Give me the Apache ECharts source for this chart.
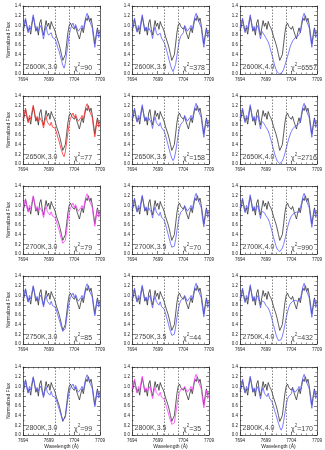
<!DOCTYPE html>
<html>
<head>
<meta charset="utf-8">
<script src="https://cdn.jsdelivr.net/npm/echarts@6/dist/echarts.min.js"></script>
<style>
  html, body { margin: 0; padding: 0; background: #fff; }
  #main { width: 325px; height: 450px; }
</style>
</head>
<body>
<div id="main"></div>
<script>
// wavelength grid (A), 0.25 A steps
var wave = [7694.00,7694.25,7694.50,7694.75,7695.00,7695.25,7695.50,7695.75,7696.00,7696.25,
            7696.50,7696.75,7697.00,7697.25,7697.50,7697.75,7698.00,7698.25,7698.50,7698.75,
            7699.00,7699.25,7699.50,7699.75,7700.00,7700.25,7700.50,7700.75,7701.00,7701.25,
            7701.50,7701.75,7702.00,7702.25,7702.50,7702.75,7703.00,7703.25,7703.50,7703.75,
            7704.00,7704.25,7704.50,7704.75,7705.00,7705.25,7705.50,7705.75,7706.00,7706.25,
            7706.50,7706.75,7707.00,7707.25,7707.50,7707.75,7708.00,7708.25,7708.50,7708.75,7709.00];

// observed spectrum (same in every panel)
var observed = [0.90,0.97,1.12,1.00,0.88,0.95,0.82,1.02,1.18,1.05,
                0.88,0.95,0.80,1.05,1.12,0.92,0.80,0.95,1.10,0.98,
                1.05,0.92,1.08,1.00,0.95,0.88,0.78,0.70,0.62,0.52,
                0.40,0.28,0.25,0.40,0.62,0.85,1.00,1.05,0.98,1.02,
                0.92,0.98,0.88,0.80,0.72,0.85,0.95,0.85,1.00,1.15,
                1.10,1.20,1.08,1.15,1.00,0.80,0.62,0.80,0.95,0.82,0.88];

// model spectra, one per panel
var m2600_30 = [0.95,1.05,1.15,0.95,0.85,1.00,0.92,1.08,1.22,1.05,0.90,0.98,0.88,0.95,1.00,0.85,0.72,0.88,0.98,0.85,
                0.80,0.78,0.85,0.75,0.78,0.72,0.65,0.55,0.48,0.38,0.28,0.18,0.12,0.22,0.42,0.62,0.80,0.92,1.00,1.05,
                0.95,1.02,0.95,0.88,0.85,0.95,1.00,0.92,1.05,1.18,1.25,1.15,1.08,1.10,0.95,0.72,0.55,0.75,0.92,0.75,0.82];
var m2600_35 = [0.95,1.05,1.15,0.95,0.86,1.00,0.92,1.08,1.22,1.04,0.90,0.97,0.88,0.95,0.98,0.85,0.73,0.88,0.97,0.85,
                0.80,0.77,0.84,0.74,0.72,0.65,0.58,0.48,0.38,0.28,0.18,0.10,0.05,0.08,0.20,0.38,0.55,0.70,0.78,0.82,
                0.85,1.00,0.95,0.88,0.85,0.95,1.00,0.92,1.05,1.18,1.25,1.15,1.08,1.10,0.95,0.72,0.55,0.75,0.92,0.75,0.82];
var m2600_40 = [0.95,1.05,1.15,0.95,0.85,1.00,0.92,1.08,1.22,1.05,0.90,0.98,0.88,0.95,1.00,0.85,0.72,0.88,
                0.85,0.80,0.75,0.72,0.66,0.58,0.48,0.38,0.28,0.18,0.10,0.04,0.01,0.00,0.01,0.04,0.10,0.18,0.27,0.36,
                0.45,0.55,0.62,0.68,0.72,0.75,0.76,0.78,0.80,0.85,
                1.05,1.18,1.25,1.15,1.08,1.10,0.95,0.72,0.55,0.75,0.92,0.75,0.82];
var m2650_30 = [0.95,1.04,1.15,0.96,0.85,1.00,0.92,1.08,1.21,1.05,0.90,0.98,0.88,0.96,1.00,0.86,0.74,0.88,0.98,0.86,
                0.82,0.79,0.86,0.76,0.80,0.74,0.66,0.56,0.48,0.38,0.28,0.20,0.15,0.25,0.45,0.65,0.82,0.94,1.00,1.05,
                0.96,1.02,0.95,0.88,0.85,0.95,1.00,0.92,1.05,1.18,1.24,1.15,1.08,1.10,0.96,0.73,0.56,0.76,0.92,0.76,0.82];
var m2650_35 = [0.95,1.05,1.15,0.95,0.86,1.00,0.92,1.08,1.22,1.04,0.90,0.97,0.88,0.95,0.99,0.85,0.73,0.88,0.97,0.85,
                0.81,0.78,0.85,0.75,0.74,0.68,0.60,0.50,0.40,0.30,0.20,0.12,0.07,0.12,0.25,0.42,0.60,0.74,0.82,0.86,
                0.88,1.00,0.95,0.88,0.85,0.95,1.00,0.92,1.05,1.18,1.25,1.15,1.08,1.10,0.95,0.72,0.55,0.75,0.92,0.75,0.82];
var m2650_40 = [0.95,1.05,1.15,0.95,0.85,1.00,0.92,1.08,1.22,1.05,0.90,0.98,0.88,0.95,1.00,0.85,0.72,0.88,
                0.88,0.82,0.77,0.74,0.68,0.60,0.51,0.41,0.31,0.21,0.13,0.06,0.02,0.01,0.02,0.06,0.13,0.22,0.32,0.42,
                0.52,0.60,0.67,0.72,0.76,0.78,0.80,0.81,0.82,0.86,
                1.05,1.18,1.25,1.15,1.08,1.10,0.95,0.72,0.55,0.75,0.92,0.75,0.82];
var m2700_30 = [0.95,1.04,1.14,0.96,0.86,1.00,0.93,1.08,1.20,1.05,0.91,0.98,0.89,0.96,1.00,0.87,0.75,0.89,0.98,0.87,
                0.83,0.80,0.87,0.78,0.80,0.75,0.68,0.58,0.50,0.40,0.30,0.22,0.18,0.28,0.48,0.68,0.84,0.95,1.00,1.05,
                0.96,1.02,0.95,0.88,0.86,0.95,1.00,0.92,1.05,1.18,1.24,1.15,1.08,1.10,0.96,0.74,0.57,0.76,0.92,0.76,0.83];
var m2700_35 = [0.95,1.05,1.15,0.95,0.86,1.00,0.92,1.08,1.21,1.04,0.90,0.97,0.88,0.95,0.99,0.86,0.74,0.88,0.97,0.86,
                0.82,0.79,0.86,0.76,0.76,0.70,0.62,0.52,0.42,0.32,0.22,0.14,0.10,0.16,0.30,0.48,0.65,0.78,0.86,0.90,
                0.92,1.00,0.95,0.88,0.85,0.95,1.00,0.92,1.05,1.18,1.25,1.15,1.08,1.10,0.95,0.72,0.56,0.75,0.92,0.75,0.82];
var m2700_40 = [0.95,1.05,1.15,0.95,0.85,1.00,0.92,1.08,1.22,1.05,0.90,0.98,0.88,0.95,1.00,0.85,0.73,0.88,
                0.90,0.85,0.80,0.77,0.72,0.65,0.56,0.46,0.36,0.26,0.17,0.10,0.06,0.05,0.07,0.12,0.20,0.30,0.42,0.54,
                0.64,0.72,0.78,0.82,0.84,0.85,0.86,0.86,0.86,0.90,
                1.05,1.18,1.25,1.15,1.08,1.10,0.95,0.72,0.55,0.75,0.92,0.75,0.82];
var m2750_30 = [0.95,1.04,1.14,0.96,0.86,1.00,0.93,1.08,1.20,1.05,0.91,0.98,0.89,0.96,1.01,0.88,0.76,0.90,0.99,0.88,
                0.84,0.81,0.88,0.79,0.80,0.76,0.70,0.60,0.52,0.43,0.34,0.26,0.22,0.32,0.52,0.70,0.86,0.96,1.00,1.05,
                0.96,1.02,0.95,0.88,0.86,0.95,1.00,0.92,1.05,1.18,1.24,1.15,1.08,1.10,0.96,0.74,0.58,0.76,0.92,0.76,0.83];
var m2750_35 = [0.95,1.05,1.15,0.95,0.86,1.00,0.92,1.08,1.21,1.04,0.90,0.97,0.88,0.95,1.00,0.86,0.74,0.89,0.98,0.87,
                0.83,0.80,0.87,0.77,0.78,0.72,0.64,0.54,0.45,0.35,0.26,0.18,0.14,0.20,0.35,0.54,0.70,0.82,0.90,0.94,
                0.94,1.00,0.95,0.88,0.85,0.95,1.00,0.92,1.05,1.18,1.25,1.15,1.08,1.10,0.95,0.73,0.56,0.75,0.92,0.75,0.82];
var m2750_40 = [0.95,1.05,1.15,0.95,0.85,1.00,0.92,1.08,1.22,1.05,0.90,0.98,0.88,0.95,1.00,0.86,0.74,0.89,
                0.92,0.86,0.80,0.78,0.74,0.68,0.60,0.50,0.40,0.30,0.20,0.12,0.07,0.06,0.09,0.16,0.27,0.40,0.54,0.66,
                0.75,0.82,0.86,0.88,0.88,0.90,0.90,0.88,0.88,0.92,
                1.05,1.18,1.25,1.15,1.08,1.10,0.95,0.72,0.55,0.75,0.92,0.75,0.82];
var m2800_30 = [0.95,1.04,1.14,0.96,0.86,1.00,0.93,1.08,1.20,1.05,0.92,0.98,0.90,0.96,1.01,0.88,0.77,0.90,0.99,0.88,
                0.85,0.82,0.90,0.80,0.82,0.78,0.72,0.63,0.55,0.46,0.38,0.30,0.28,0.36,0.56,0.74,0.88,0.97,1.00,1.05,
                0.96,1.02,0.95,0.88,0.86,0.95,1.00,0.92,1.05,1.18,1.24,1.15,1.08,1.10,0.96,0.74,0.58,0.76,0.92,0.76,0.83];
var m2800_35 = [0.95,1.05,1.15,0.95,0.86,1.00,0.92,1.08,1.21,1.04,0.91,0.97,0.89,0.95,1.00,0.86,0.75,0.89,0.98,0.87,
                0.84,0.81,0.88,0.78,0.80,0.74,0.66,0.56,0.48,0.38,0.30,0.22,0.18,0.25,0.42,0.60,0.76,0.88,0.94,0.98,
                0.95,1.00,0.95,0.88,0.85,0.95,1.00,0.92,1.05,1.18,1.25,1.15,1.08,1.10,0.95,0.73,0.56,0.75,0.92,0.75,0.82];
var m2800_40 = [0.95,1.05,1.15,0.95,0.86,1.00,0.92,1.08,1.21,1.05,0.90,0.97,0.88,0.95,1.00,0.86,0.74,0.89,0.98,0.86,
                0.82,0.79,0.86,0.76,0.74,0.68,0.60,0.50,0.42,0.33,0.24,0.16,0.10,0.15,0.28,0.45,0.62,0.74,0.80,0.84,
                0.85,0.95,0.95,0.88,0.85,0.95,1.00,0.92,1.05,1.18,1.25,1.15,1.08,1.10,0.95,0.72,0.55,0.75,0.92,0.75,0.82];

var temps = ['2600K', '2650K', '2700K', '2750K', '2800K'];
var loggs = ['3.0', '3.5', '4.0'];
var models = [
  [m2600_30, m2600_35, m2600_40],
  [m2650_30, m2650_35, m2650_40],
  [m2700_30, m2700_35, m2700_40],
  [m2750_30, m2750_35, m2750_40],
  [m2800_30, m2800_35, m2800_40]
];
var chi2 = [
  [90, 378, 6557],
  [77, 158, 2716],
  [79, 70, 990],
  [85, 44, 432],
  [99, 35, 170]
];
// colour of each panel's model line
var modelColor = [
  ['blue', 'blue', 'blue'],
  ['red', 'blue', 'blue'],
  ['magenta', 'blue', 'blue'],
  ['blue', 'blue', 'blue'],
  ['blue', 'magenta', 'blue']
];
var lineMarks = [7700.35, 7703.1];   // dotted vertical lines
var xTicks = [7694, 7709, 5];        // min, max, step
var yTicks = [0.0, 1.4, 0.2];

var colors = { blue: '#5a5aff', red: '#ff2a2a', magenta: '#ff3cff' };
var colLeft = [23, 132, 240];
var rowTop = [6, 96, 186, 276, 367];
var pw = 77, ph = 68;
var fnt = 'Liberation Sans';
var axCol = '#222';

function frameAxis(extra) {
  var a = {
    axisLine: { show: true, onZero: false, lineStyle: { color: axCol, width: 0.7 } },
    axisTick: { show: true, inside: true, length: 3, lineStyle: { color: axCol, width: 0.6 } },
    splitLine: { show: false }
  };
  for (var k in extra) a[k] = extra[k];
  return a;
}

var grids = [], xAxes = [], yAxes = [], series = [], texts = [];
var g = 0;
for (var r = 0; r < 5; r++) {
  for (var c = 0; c < 3; c++) {
    grids.push({ left: colLeft[c], top: rowTop[r], width: pw, height: ph });
    var xMinor = { show: true, splitNumber: 5, length: 1.5, lineStyle: { color: axCol, width: 0.5 } };
    var yMinor = { show: true, splitNumber: 2, length: 1.5, lineStyle: { color: axCol, width: 0.5 } };
    xAxes.push(frameAxis({
      gridIndex: g, type: 'value', min: xTicks[0], max: xTicks[1], interval: xTicks[2],
      position: 'bottom', minorTick: xMinor,
      name: r == 4 ? 'Wavelength (Å)' : '', nameLocation: 'middle', nameGap: 9,
      nameTextStyle: { fontSize: 5, fontFamily: fnt, color: axCol },
      axisLabel: { fontSize: 4.5, fontFamily: fnt, color: axCol, margin: 3,
        formatter: function (v) { return v.toFixed(0); } }
    }));
    xAxes.push(frameAxis({
      gridIndex: g, type: 'value', min: xTicks[0], max: xTicks[1], interval: xTicks[2],
      position: 'top', minorTick: xMinor, axisLabel: { show: false }
    }));
    yAxes.push(frameAxis({
      gridIndex: g, type: 'value', min: yTicks[0], max: yTicks[1], interval: yTicks[2],
      position: 'left', minorTick: yMinor,
      name: c == 0 ? 'Normalized Flux' : '', nameLocation: 'middle', nameGap: 11, nameRotate: 90,
      nameTextStyle: { fontSize: 5, fontFamily: fnt, color: axCol },
      axisLabel: { fontSize: 4.5, fontFamily: fnt, color: axCol, margin: 2,
        formatter: function (v) { return v.toFixed(1); } }
    }));
    yAxes.push(frameAxis({
      gridIndex: g, type: 'value', min: yTicks[0], max: yTicks[1], interval: yTicks[2],
      position: 'right', minorTick: yMinor, axisLabel: { show: false }
    }));

    var obsData = [], modData = [];
    for (var i = 0; i < wave.length; i++) {
      obsData.push([wave[i], observed[i]]);
      modData.push([wave[i], models[r][c][i]]);
    }
    series.push({
      type: 'line', xAxisIndex: 2 * g, yAxisIndex: 2 * g, data: obsData,
      showSymbol: false, silent: true,
      lineStyle: { color: '#333', width: 0.8 },
      markLine: {
        silent: true, symbol: 'none', label: { show: false },
        lineStyle: { color: '#555', type: [1.5, 1.5], width: 0.7 },
        data: lineMarks.map(function (x) { return { xAxis: x }; })
      },
      z: 2
    });
    series.push({
      type: 'line', xAxisIndex: 2 * g, yAxisIndex: 2 * g, data: modData,
      showSymbol: false, silent: true,
      lineStyle: { color: colors[modelColor[r][c]], width: 0.8 },
      z: 3
    });

    texts.push({
      type: 'text', left: colLeft[c] + 2.5, top: rowTop[r] + ph - 10,
      style: { text: temps[r] + ',' + loggs[c], fontSize: 7, fontFamily: fnt, fill: '#444' }, z: 10
    });
    texts.push({
      type: 'text', left: colLeft[c] + 51, top: rowTop[r] + ph - 11.5,
      style: {
        text: '{a|χ}{s|2}{a|=' + chi2[r][c] + '}',
        rich: {
          a: { fontSize: 7, fontFamily: fnt, fill: '#444', verticalAlign: 'bottom' },
          s: { fontSize: 4.5, fontFamily: fnt, fill: '#444', verticalAlign: 'top', padding: [0, 0, 4, 0] }
        }
      }, z: 10
    });
    g++;
  }
}

var chart = echarts.init(document.getElementById('main'), null, { renderer: 'canvas' });
chart.setOption({
  animation: false,
  backgroundColor: '#fff',
  grid: grids,
  xAxis: xAxes,
  yAxis: yAxes,
  series: series,
  graphic: texts
});
</script>
</body>
</html>
